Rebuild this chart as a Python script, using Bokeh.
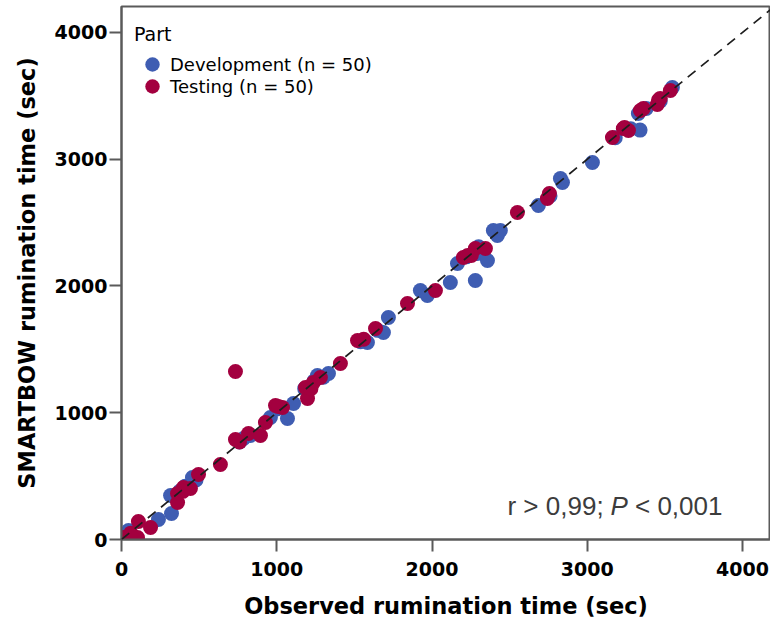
from bokeh.plotting import figure
from bokeh.models import Range1d, FixedTicker, Slope, Label, Legend, LegendItem
from bokeh.embed import file_html
from bokeh.resources import INLINE

# Development part (n = 50): observed vs SMARTBOW rumination time (sec)
dev_observed = [45, 238, 322, 316, 457, 786, 959, 1069, 1108, 1262, 1333, 1584, 1687, 1719,
                1925, 1970, 2118, 2279, 2164, 2292, 2357, 2395, 2421, 2440, 2685, 2827, 2840,
                3033, 3340, 3329, 3548,
                20, 375, 410, 480, 760, 830, 1000, 1180, 1240, 1300, 1540, 1650, 2220, 2300,
                2760, 3180, 3380, 3470, 3280]
dev_smartbow = [71, 158, 205, 347, 489, 797, 962, 955, 1073, 1294, 1310, 1554, 1633, 1751,
                1964, 1925, 2028, 2043, 2178, 2256, 2201, 2438, 2398, 2438, 2635, 2848, 2817,
                2974, 3230, 3361, 3566,
                15, 380, 420, 470, 770, 820, 1030, 1190, 1250, 1280, 1560, 1650, 2230, 2310,
                2710, 3170, 3400, 3460, 3240]

# Testing part (n = 50)
test_observed = [13, 103, 109, 187, 361, 361, 399, 444, 496, 637, 734, 734, 818, 895, 927,
                 992, 1037, 1198, 1185, 1236, 1281, 1410, 1520, 1636, 1842, 2022, 2202, 2279,
                 2344, 2253, 2550, 2743, 2756, 3162, 3232, 3265, 3361, 3342, 3458, 3451, 3535,
                 60, 395, 760, 1010, 1220, 1560, 2230, 3240, 3470]
test_smartbow = [16, 16, 142, 95, 292, 363, 410, 402, 513, 592, 1325, 789, 836, 820, 923,
                 1057, 1041, 1112, 1199, 1239, 1278, 1389, 1570, 1665, 1862, 1964, 2225, 2296,
                 2296, 2240, 2580, 2690, 2730, 3172, 3243, 3227, 3400, 3385, 3464, 3432, 3542,
                 50, 380, 770, 1050, 1190, 1580, 2240, 3250, 3480]

ticks = [0, 1000, 2000, 3000, 4000]
x_max = 4180
y_max = 4205

BLUE = "#3F5DB2"
RED = "#A3003F"
AXIS = "#5a5a5a"

p = figure(width=770, height=621, output_backend="svg", toolbar_location=None,
           x_range=Range1d(0, x_max), y_range=Range1d(0, y_max),
           min_border_left=121, min_border_right=0, min_border_top=6, min_border_bottom=82)

p.xgrid.visible = False
p.ygrid.visible = False
p.outline_line_color = AXIS
p.outline_line_width = 2

p.add_layout(Slope(gradient=1, y_intercept=0, line_color="#1e1e1e", line_width=1.7,
                   line_dash="10 7"))

r_dev = p.scatter(dev_observed, dev_smartbow, size=15, fill_color=BLUE, line_color=None)
r_test = p.scatter(test_observed, test_smartbow, size=15, fill_color=RED, line_color=None)

for ax in (p.xaxis[0], p.yaxis[0]):
    ax.ticker = FixedTicker(ticks=ticks)
    ax.minor_tick_line_color = None
    ax.major_tick_in = 0
    ax.major_tick_out = 12
    ax.major_tick_line_color = AXIS
    ax.major_tick_line_width = 2
    ax.axis_line_color = AXIS
    ax.axis_line_width = 2
    ax.major_label_text_font = "DejaVu Sans"
    ax.major_label_text_font_style = "bold"
    ax.major_label_text_font_size = "19px"
    ax.major_label_text_color = "black"
    ax.axis_label_text_font = "DejaVu Sans"
    ax.axis_label_text_font_style = "bold"
    ax.axis_label_text_font_size = "22.5px"
    ax.axis_label_text_color = "black"

p.xaxis.axis_label = "Observed rumination time (sec)"
p.yaxis.axis_label = "SMARTBOW rumination time (sec)"
p.xaxis.major_label_standoff = 10
p.yaxis.major_label_standoff = 2
p.xaxis.axis_label_standoff = 14
p.yaxis.axis_label_standoff = 12


def style_legend(lg):
    lg.margin = 0
    lg.padding = 0
    lg.border_line_color = None
    lg.background_fill_alpha = 0
    lg.title_text_font = "DejaVu Sans"
    lg.title_text_font_size = "19px"
    lg.title_text_font_style = "normal"
    lg.title_text_color = "black"
    lg.title_standoff = 0
    lg.label_text_font = "DejaVu Sans"
    lg.label_text_font_size = "18px"
    lg.label_text_color = "black"
    lg.glyph_width = 36
    lg.glyph_height = 38
    lg.label_standoff = 0


legend_a = Legend(items=[LegendItem(label="Development (n = 50)", renderers=[r_dev])],
                  title="Part", location=(13, 456))
legend_b = Legend(items=[LegendItem(label="Testing (n = 50)", renderers=[r_test])],
                  location=(13, 434))
style_legend(legend_a)
style_legend(legend_b)
p.add_layout(legend_a)
p.add_layout(legend_b)

ann_font = "Liberation Sans"
common = dict(x=2486, y=261, text_font=ann_font, text_font_size="26px",
              text_color="#3c3c3c", text_baseline="alphabetic", text_align="left")
p.add_layout(Label(text="r > 0,99;", x_offset=0, **common))
p.add_layout(Label(text="P", x_offset=103, text_font_style="italic", **common))
p.add_layout(Label(text="< 0,001", x_offset=127.5, **common))

open("out.html", "w").write(file_html(p, INLINE))
